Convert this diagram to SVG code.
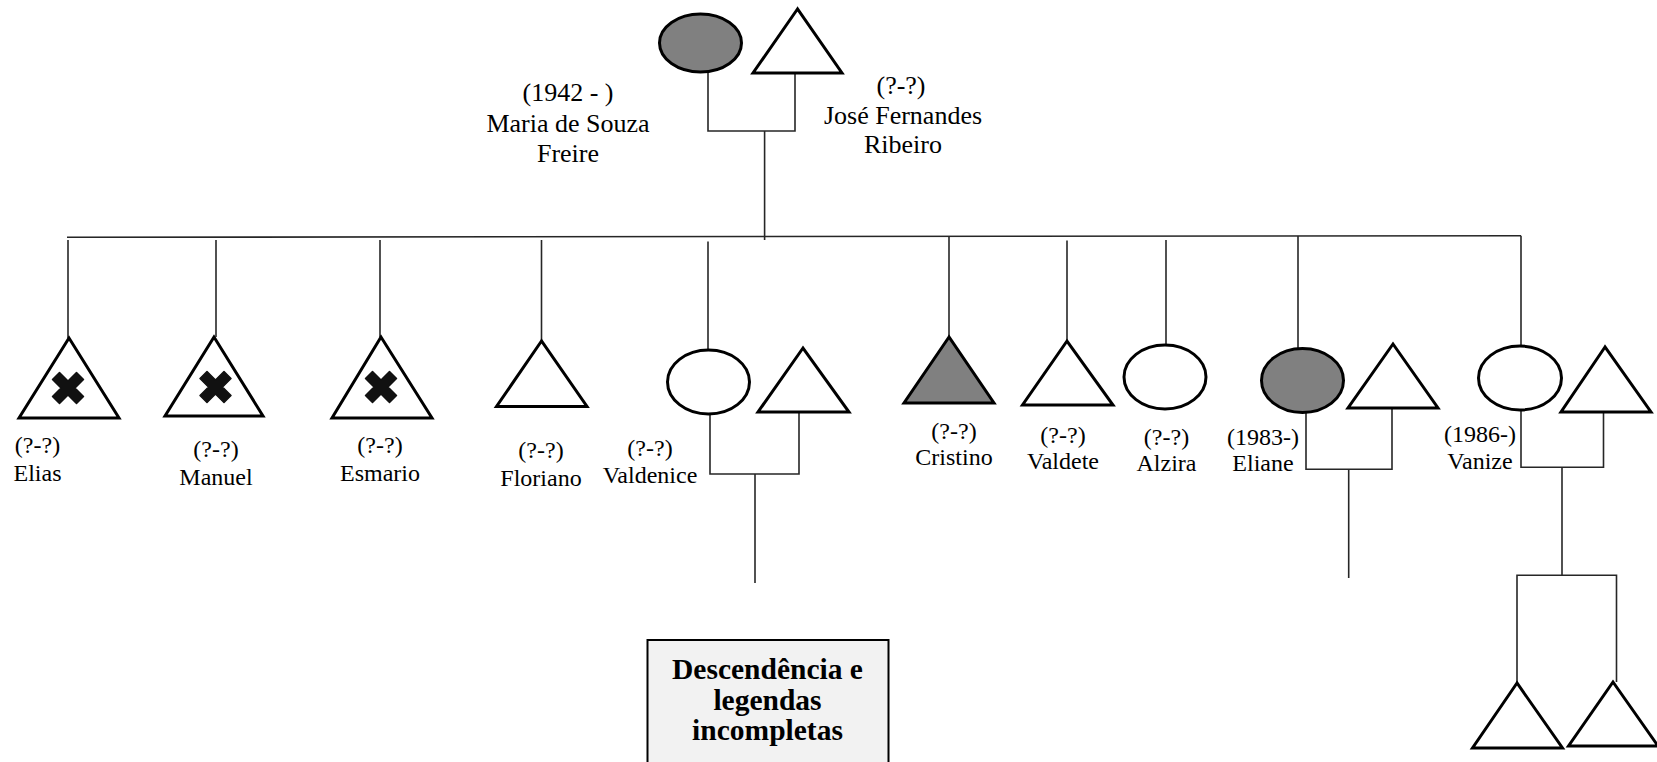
<svg xmlns="http://www.w3.org/2000/svg" width="1657" height="762" viewBox="0 0 1657 762">
<style>
.shape{stroke:#000;stroke-width:3;fill:#fff}
.gray{fill:#808080}
.line{stroke:#262626;stroke-width:1.6;fill:none}
.lbl{font-family:"Liberation Serif","Times New Roman",serif;font-size:24px;text-anchor:middle;fill:#000}
.top{font-size:26px}
.note{font-family:"Liberation Serif","Times New Roman",serif;font-size:29.5px;font-weight:bold;text-anchor:middle;fill:#000}
</style>
<defs>
<path id="cross" d="M-15.5,-8.5 L-8.5,-15.5 L0,-7 L8.5,-15.5 L15.5,-8.5 L7,0 L15.5,8.5 L8.5,15.5 L0,7 L-8.5,15.5 L-15.5,8.5 L-7,0 Z" fill="#111" stroke="#111" stroke-width="1.5" stroke-linejoin="round"/>
</defs>
<rect width="1657" height="762" fill="#fff"/>

<g id="connectors">
<path class="line" d="M708,72 V131 H795 V74"/>
<path class="line" d="M764.6,131 V240"/>
<path class="line" d="M67,237.3 L1521,235.7"/>
<path class="line" d="M68,240 V338"/>
<path class="line" d="M216,240 V337"/>
<path class="line" d="M380,240 V337"/>
<path class="line" d="M541.5,240 V341"/>
<path class="line" d="M708,241.5 V350"/>
<path class="line" d="M949,236.5 V337"/>
<path class="line" d="M1067,240.5 V341"/>
<path class="line" d="M1166,240 V345"/>
<path class="line" d="M1298,236 V348.5"/>
<path class="line" d="M1521,235.7 V346"/>
<path class="line" d="M710,414 V474 H799 V412"/>
<path class="line" d="M755,474 V583"/>
<path class="line" d="M1306,412 V469.3 H1392 V408"/>
<path class="line" d="M1348.7,469.3 V578"/>
<path class="line" d="M1521,410 V467.3 H1603.5 V412"/>
<path class="line" d="M1562,467.3 V575.3"/>
<path class="line" d="M1517,683 V575.3 H1616.5 V682"/>
</g>

<g id="maria">
<ellipse class="shape gray" cx="700.5" cy="43" rx="41" ry="29"/>
<text class="lbl top" x="568" y="101">(1942 - )</text>
<text class="lbl top" x="568" y="132">Maria de Souza</text>
<text class="lbl top" x="568" y="162">Freire</text>
</g>
<g id="jose">
<polygon class="shape" points="797.5,9 753,73 842,73"/>
<text class="lbl top" x="901" y="94">(?-?)</text>
<text class="lbl top" x="903" y="124">José Fernandes</text>
<text class="lbl top" x="903" y="153">Ribeiro</text>
</g>

<g id="elias">
<polygon class="shape" points="69,338 19,418 119,418"/>
<use href="#cross" x="68" y="388"/>
<text class="lbl" x="37.5" y="453">(?-?)</text>
<text class="lbl" x="37.5" y="481">Elias</text>
</g>
<g id="manuel">
<polygon class="shape" points="214,337 165,416 263,416"/>
<use href="#cross" x="215.5" y="387"/>
<text class="lbl" x="216" y="457">(?-?)</text>
<text class="lbl" x="216" y="485">Manuel</text>
</g>
<g id="esmario">
<polygon class="shape" points="381,337 332,418 432,418"/>
<use href="#cross" x="381" y="387"/>
<text class="lbl" x="380" y="453">(?-?)</text>
<text class="lbl" x="380" y="481">Esmario</text>
</g>
<g id="floriano">
<polygon class="shape" points="541.5,341 496.5,406.5 587,406.5"/>
<text class="lbl" x="541" y="458">(?-?)</text>
<text class="lbl" x="541" y="486">Floriano</text>
</g>
<g id="valdenice">
<ellipse class="shape" cx="708.5" cy="382" rx="41" ry="32"/>
<text class="lbl" x="650" y="456">(?-?)</text>
<text class="lbl" x="650" y="483">Valdenice</text>
</g>
<g id="valdenice-spouse">
<polygon class="shape" points="803,348 758,412 849,412"/>
</g>
<g id="cristino">
<polygon class="shape gray" points="949,337 904,403 994,403"/>
<text class="lbl" x="954" y="439">(?-?)</text>
<text class="lbl" x="954" y="465">Cristino</text>
</g>
<g id="valdete">
<polygon class="shape" points="1067,341 1022.5,405 1113,405"/>
<text class="lbl" x="1063" y="443">(?-?)</text>
<text class="lbl" x="1063" y="469">Valdete</text>
</g>
<g id="alzira">
<ellipse class="shape" cx="1165" cy="377" rx="41" ry="32"/>
<text class="lbl" x="1166.5" y="445">(?-?)</text>
<text class="lbl" x="1166.5" y="471">Alzira</text>
</g>
<g id="eliane">
<ellipse class="shape gray" cx="1302.5" cy="380.5" rx="41" ry="32"/>
<text class="lbl" x="1263" y="445">(1983-)</text>
<text class="lbl" x="1263" y="471">Eliane</text>
</g>
<g id="eliane-spouse">
<polygon class="shape" points="1393,344 1348,408 1438,408"/>
</g>
<g id="vanize">
<ellipse class="shape" cx="1520" cy="378" rx="41.5" ry="32"/>
<text class="lbl" x="1480" y="442">(1986-)</text>
<text class="lbl" x="1480" y="469">Vanize</text>
</g>
<g id="vanize-spouse">
<polygon class="shape" points="1605,347 1561,412 1651,412"/>
</g>
<g id="vanize-child-1">
<polygon class="shape" points="1517,683 1472.5,748 1562.5,748"/>
</g>
<g id="vanize-child-2">
<polygon class="shape" points="1613,682 1568.5,746 1658,746"/>
</g>

<g id="legend">
<rect x="647.5" y="640" width="241" height="125" fill="#f2f2f2" stroke="#000" stroke-width="2"/>
<text class="note" x="767.5" y="679">Descendência e</text>
<text class="note" x="767.5" y="710">legendas</text>
<text class="note" x="767.5" y="740">incompletas</text>
</g>
</svg>
